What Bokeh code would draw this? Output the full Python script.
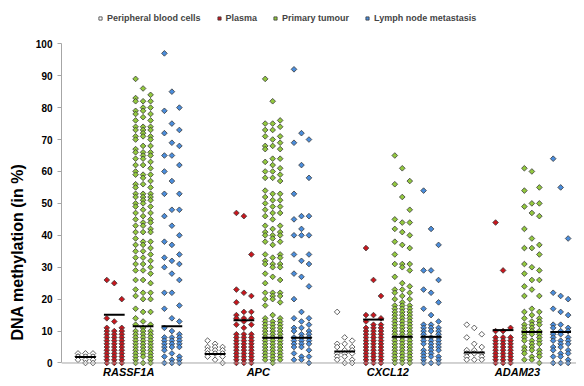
import numpy as np
from bokeh.plotting import figure
from bokeh.models import ColumnDataSource, Range1d, FixedTicker, Legend, LegendItem, Span, Title
from bokeh.core.properties import value
from bokeh.embed import file_html
from bokeh.resources import INLINE

genes = ["RASSF1A", "APC", "CXCL12", "ADAM23"]
groups = ["Peripheral blood cells", "Plasma", "Primary tumour", "Lymph node metastasis"]
y_ticks = [0, 10, 20, 30, 40, 50, 60, 70, 80, 90, 100]

# DNA methylation values (%) per gene and group
RASSF1A_blood = [0, 0, 1, 1, 1, 2, 2, 2, 2, 3, 3, 3]
RASSF1A_plasma = [0, 0, 0, 1, 1, 1, 2, 2, 2, 3, 3, 3, 4, 4, 4, 5, 5, 5, 6, 6, 6, 7, 7, 7,
                  8, 8, 8, 9, 9, 9, 10, 10, 10, 11, 11, 13, 14, 20, 25, 26]
RASSF1A_primary = [89, 86, 84, 83, 82, 82, 82, 80, 80, 79, 79, 78, 78, 77, 76, 76, 74, 74, 74, 73,
                   73, 73, 72, 71, 71, 71, 70, 70, 68, 68, 67, 66, 66, 66, 65, 65, 64, 64, 63, 62,
                   62, 61, 60, 59, 59, 59, 58, 57, 56, 56, 55, 55, 53, 53, 53, 52, 52, 52, 51, 51,
                   50, 50, 49, 49, 48, 47, 47, 46, 45, 45, 44, 44, 43, 43, 42, 41, 41, 41, 39, 38,
                   38, 37, 37, 36, 35, 35, 34, 33, 33, 32, 31, 31, 30, 29, 29, 28, 26, 26, 25, 23,
                   22, 22, 21, 20, 20, 17, 16, 16, 14, 13, 12, 12, 11, 10, 10, 10, 9, 9, 9, 8,
                   8, 8, 7, 7, 7, 6, 6, 6, 5, 5, 5, 4, 4, 4, 3, 3, 3, 2, 2, 2, 1, 1, 0, 0, 0]
RASSF1A_lymph = [97, 85, 80, 79, 75, 73, 72, 69, 68, 65, 65, 62, 60, 57, 53, 53, 48, 48, 46, 43,
                 40, 38, 37, 34, 33, 32, 31, 30, 28, 26, 22, 22, 18, 17, 14, 13, 11, 10, 9, 8,
                 8, 8, 7, 7, 7, 6, 6, 6, 5, 5, 5, 4, 3, 2, 2, 1, 1, 0, 0, 0]

APC_blood = [0, 1, 2, 2, 3, 3, 3, 4, 4, 4, 5, 5, 5, 6, 7]
APC_plasma = [47, 46, 34, 23, 22, 21, 19, 16, 16, 15, 14, 14, 14, 13, 12, 12, 11,
              0, 0, 0, 1, 1, 1, 2, 2, 2, 3, 3, 3, 4, 4, 4, 5, 5, 5, 6, 6, 6, 7, 7, 7,
              8, 8, 8, 9, 9, 9]
APC_primary = [89, 82, 76, 75, 75, 74, 73, 73, 71, 71, 70, 69, 68, 68, 67, 67, 64, 64, 63, 62,
               61, 60, 60, 59, 58, 58, 57, 54, 53, 53, 52, 51, 51, 50, 49, 49, 48, 47, 47, 46,
               45, 43, 43, 42, 41, 41, 40, 40, 40, 39, 38, 38, 37, 34, 34, 33, 33, 32, 31, 31,
               31, 30, 30, 28, 27, 26, 25, 22, 22, 22, 21, 21, 20, 20, 19, 18, 15, 14, 14, 13,
               13, 13, 12, 12, 12, 11, 11, 11, 10, 10, 10, 9, 9, 9, 8, 8, 8, 7, 7, 7,
               6, 6, 6, 5, 5, 5, 4, 4, 4, 3, 3, 3, 2, 2, 2, 1, 1, 1, 0]
APC_lymph = [92, 72, 70, 69, 62, 58, 53, 46, 46, 45, 42, 40, 40, 40, 34, 34, 32, 31, 28, 27,
             24, 20, 16, 14, 14, 13, 12, 11, 11, 10, 10, 9, 9, 8, 8, 8, 7, 7, 7, 6,
             6, 6, 5, 5, 4, 3, 2, 2, 1, 1, 0]

CXCL12_blood = [0, 0, 1, 1, 2, 2, 3, 3, 3, 4, 4, 5, 5, 6, 6, 7, 8, 16]
CXCL12_plasma = [36, 26, 21, 15, 15, 14, 13, 12, 12,
                 0, 0, 0, 1, 1, 1, 2, 2, 2, 3, 3, 3, 4, 4, 4, 5, 5, 5, 6, 6, 6, 7, 7, 7,
                 8, 8, 8, 9, 9, 9, 10, 10, 10, 11, 11, 11]
CXCL12_primary = [65, 61, 57, 56, 52, 48, 45, 44, 44, 42, 41, 40, 38, 37, 36, 34, 31, 31, 31, 30,
                  29, 27, 25, 24, 23, 23, 22, 22, 21, 20, 20, 19,
                  18, 18, 18, 17, 17, 17, 16, 16, 16, 15, 15, 15, 14, 14, 14, 13, 13, 13,
                  12, 12, 12, 11, 11, 11, 10, 10, 10, 9, 9, 9, 8, 8, 8, 7, 7, 7, 6, 6, 6,
                  5, 5, 5, 4, 4, 4, 3, 3, 3, 2, 2, 2, 1, 1, 1, 0, 0, 0]
CXCL12_lymph = [54, 42, 37, 29, 29, 26, 23, 22, 19, 17, 15, 13, 12, 12, 11, 11, 11, 10, 10, 10,
                9, 9, 8, 8, 8, 7, 7, 7, 6, 6, 6, 5, 5, 4, 4, 4, 3, 3, 2, 2, 2, 1, 1, 0, 0, 0]

ADAM23_blood = [1, 1, 1, 2, 2, 3, 3, 3, 4, 4, 5, 6, 8, 9, 11, 12]
ADAM23_plasma = [0, 0, 0, 1, 1, 1, 2, 2, 2, 3, 3, 3, 4, 4, 4, 5, 5, 5, 6, 6, 6, 7, 7, 7,
                 8, 8, 8, 10, 10, 11, 29, 44]
ADAM23_primary = [61, 60, 55, 54, 50, 50, 49, 47, 46, 42, 39, 37, 36, 36, 34, 31, 30, 29, 28, 26,
                  26, 24, 23, 21, 21, 17, 16, 16, 15, 14, 14, 13, 13, 12, 12, 12, 11, 11, 10, 10,
                  10, 9, 9, 9, 8, 8, 7, 7, 7, 6, 6, 5, 5, 4, 4, 4, 3, 3, 2, 2, 1, 1, 0]
ADAM23_lymph = [64, 55, 39, 22, 21, 20, 17, 16, 15, 12, 12, 11, 11, 10, 10, 9, 9, 8, 8, 7,
                7, 7, 6, 6, 5, 5, 4, 4, 3, 3, 2, 2, 1, 0, 0, 0]

# horizontal reference lines (%) per gene: blood, plasma, primary, lymph
RASSF1A_lines = [1.9, 15.1, 11.5, 11.5]
APC_lines = [2.8, 13.4, 7.9, 7.9]
CXCL12_lines = [3.6, 13.6, 8.2, 8.2]
ADAM23_lines = [3.3, 10.3, 9.7, 9.7]

data = {
    "RASSF1A": [RASSF1A_blood, RASSF1A_plasma, RASSF1A_primary, RASSF1A_lymph],
    "APC": [APC_blood, APC_plasma, APC_primary, APC_lymph],
    "CXCL12": [CXCL12_blood, CXCL12_plasma, CXCL12_primary, CXCL12_lymph],
    "ADAM23": [ADAM23_blood, ADAM23_plasma, ADAM23_primary, ADAM23_lymph],
}
lines = {"RASSF1A": RASSF1A_lines, "APC": APC_lines, "CXCL12": CXCL12_lines, "ADAM23": ADAM23_lines}

fills = ["#ffffff", "#c8161d", "#92c83e", "#4a8ddc"]
GENE_STEP = 4.5
COL_OFF = 0.26
HALF_LINE = 0.36
FONT = "Liberation Sans"

p = figure(width=576, height=378, x_range=Range1d(-0.833, 17.05), y_range=Range1d(-4.86, 113.56),
           output_backend="svg", toolbar_location=None,
           min_border_left=61, min_border_right=0, min_border_top=0, min_border_bottom=0)
p.outline_line_color = None
p.xgrid.grid_line_color = None
p.ygrid.grid_line_color = None
p.xaxis.visible = False
p.background_fill_color = "white"
p.border_fill_color = "white"

p.add_layout(Span(location=0, dimension="width", line_color="#a6a6a6", line_width=1))

renderers = []
for k, grp in enumerate(groups):
    xs, ys = [], []
    for gi, g in enumerate(genes):
        vals = sorted(data[g][k], reverse=True)
        base = gi * GENE_STEP + k
        for i, v in enumerate(vals):
            col = [-1, 0, 1][i % 3]
            xs.append(base + col * COL_OFF)
            ys.append(v)
    src = ColumnDataSource(dict(x=xs, y=ys))
    r = p.scatter("x", "y", source=src, marker="square", angle=np.pi / 4, size=4.0,
                  fill_color=fills[k], line_color="#3a3a3a", line_width=0.8)
    renderers.append(r)

# reference lines
lx0, lx1, ly = [], [], []
for gi, g in enumerate(genes):
    for k in range(4):
        c = gi * GENE_STEP + k
        lx0.append(c - HALF_LINE)
        lx1.append(c + HALF_LINE)
        ly.append(lines[g][k])
p.segment(x0=lx0, x1=lx1, y0=ly, y1=ly, line_color="black", line_width=2)

# gene labels under the groups
gene_centers = [gi * GENE_STEP + 1.5 for gi in range(len(genes))]
p.text(x=gene_centers, y=[-2.9] * len(genes), text=genes, text_align="center",
       text_baseline="middle", text_font=value(FONT), text_font_style="bold italic",
       text_font_size="11px", text_color="black")

# y axis
p.yaxis.ticker = FixedTicker(ticks=y_ticks)
p.yaxis.bounds = (0, 100)
p.yaxis.axis_line_color = "#a6a6a6"
p.yaxis.major_tick_line_color = "#a6a6a6"
p.yaxis.major_tick_out = 4
p.yaxis.major_tick_in = 0
p.yaxis.minor_tick_line_color = None
p.yaxis.major_label_text_font = FONT
p.yaxis.major_label_text_font_style = "bold"
p.yaxis.major_label_text_font_size = "10px"
p.yaxis.major_label_text_color = "black"
p.yaxis.major_label_standoff = 5

p.add_layout(Title(text="DNA methylation (in %)", align="left", offset=38,
                   text_font=FONT, text_font_style="bold", text_font_size="16px",
                   text_color="black", standoff=13), "left")

legend = Legend(items=[LegendItem(label=grp, renderers=[r]) for grp, r in zip(groups, renderers)],
                orientation="horizontal", location=(33, 353))
legend.background_fill_alpha = 0
legend.border_line_alpha = 0
legend.padding = 2
legend.margin = 0
legend.spacing = 14
legend.glyph_width = 8
legend.glyph_height = 8
legend.label_standoff = 3
legend.label_text_font = FONT
legend.label_text_font_style = "bold"
legend.label_text_font_size = "9px"
legend.label_height = 10
p.add_layout(legend)

open("out.html", "w").write(file_html(p, INLINE))
